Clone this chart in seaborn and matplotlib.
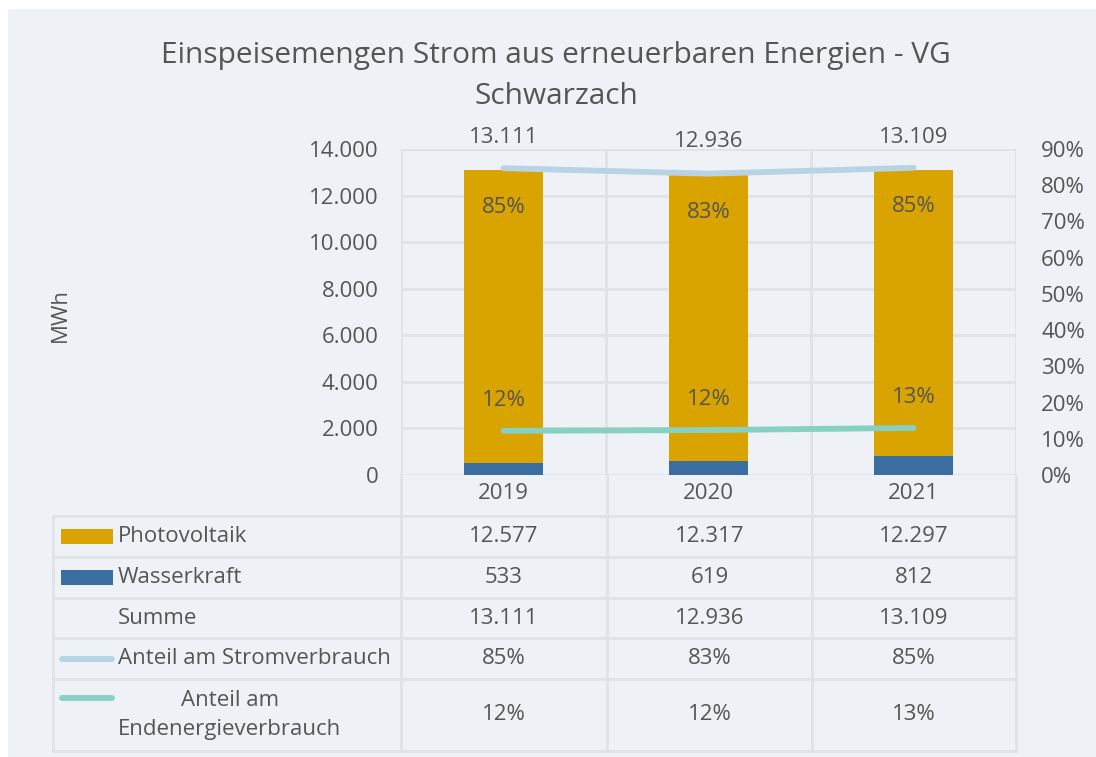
import numpy as np
import pandas as pd
import matplotlib
matplotlib.use("Agg")
import matplotlib.pyplot as plt
from matplotlib.patches import Rectangle
from matplotlib.lines import Line2D
import seaborn as sns

# ---------------- data ----------------
years = ["2019", "2020", "2021"]
photovoltaik = [12577, 12317, 12297]
wasserkraft = [533, 619, 812]
summe = [13111, 12936, 13109]
anteil_strom = [0.847, 0.832, 0.848]
anteil_end = [0.122, 0.124, 0.130]
left_ticks = [0, 2000, 4000, 6000, 8000, 10000, 12000, 14000]
right_ticks = [0.0, 0.1, 0.2, 0.3, 0.4, 0.5, 0.6, 0.7, 0.8, 0.9]

# ---------------- style ----------------
BG = "#EEF2F6"
GRID = "#DFE2E6"
TXT = "#555555"
C_PV = "#D9A300"
C_WK = "#3A6EA0"
C_STROM = "#B8D3E3"
C_END = "#86D0C4"
FS = 16

sns.set_theme(style="white")
plt.rcParams["font.family"] = ["Open Sans", "DejaVu Sans"]
plt.rcParams["text.color"] = TXT

W, H = 1096, 757
fig = plt.figure(figsize=(W / 100, H / 100), dpi=100, facecolor="white")

# overlay in pixel coordinates for background & table
ov = fig.add_axes([0, 0, 1, 1], zorder=-5)
ov.set_xlim(0, W)
ov.set_ylim(H, 0)
ov.axis("off")
ov.add_patch(Rectangle((8, 9), W - 8, H - 9, facecolor=BG, edgecolor="none"))


def de(n):
    return f"{n:,.0f}".replace(",", ".")


def pct(v):
    return f"{v * 100:.0f}%"


# ---------------- main axes ----------------
L, R, T, B = 401, 1016, 149, 475
ax = fig.add_axes([L / W, 1 - B / H, (R - L) / W, (B - T) / H])
ax.set_facecolor("none")

df = pd.DataFrame({"Jahr": years, "Summe": summe, "Wasserkraft": wasserkraft})
sns.barplot(data=df, x="Jahr", y="Summe", color=C_PV, width=0.39,
            saturation=1, ax=ax, zorder=2, linewidth=0)
sns.barplot(data=df, x="Jahr", y="Wasserkraft", color=C_WK, width=0.39,
            saturation=1, ax=ax, zorder=3, linewidth=0)

ax.set_xlim(-0.5, len(years) - 0.5)
ax.set_ylim(0, 14000)
ax.set_yticks(left_ticks)
ax.set_yticklabels([de(v) for v in left_ticks], fontsize=FS, color=TXT)
ax.set_xticks(range(len(years)))
ax.set_xticklabels(years, fontsize=FS, color=TXT)
ax.set_xticks(np.arange(-0.5, len(years), 1.0), minor=True)
ax.tick_params(axis="x", which="both", length=0, pad=6)
ax.tick_params(axis="y", length=0, pad=16)
ax.set_axisbelow(True)
ax.grid(axis="y", which="major", color=GRID, lw=2)
ax.grid(axis="x", which="minor", color=GRID, lw=2)
ax.grid(axis="x", which="major", visible=False)
for s in ax.spines.values():
    s.set_visible(False)
ax.set_xlabel("")
ax.set_ylabel("")

# sum labels above bars
for i, v in enumerate(summe):
    ax.annotate(de(v), (i, v), xytext=(0, 23), textcoords="offset points",
                ha="center", va="center", fontsize=FS, color=TXT)

# ---------------- secondary axes (lines) ----------------
ax2 = ax.twinx()
ax2.set_facecolor("none")
xpos = np.arange(len(years))
sns.lineplot(x=xpos, y=anteil_strom, ax=ax2, color=C_STROM, lw=4.2,
             solid_capstyle="round")
sns.lineplot(x=xpos, y=anteil_end, ax=ax2, color=C_END, lw=4.2,
             solid_capstyle="round")
ax2.set_ylim(0, 0.9)
ax2.set_yticks(right_ticks)
ax2.set_yticklabels([pct(v) for v in right_ticks], fontsize=FS, color=TXT)
ax2.tick_params(axis="y", length=0, pad=18)
ax2.grid(False)
for s in ax2.spines.values():
    s.set_visible(False)
ax2.set_xlim(-0.5, len(years) - 0.5)

for i, v in enumerate(anteil_strom):
    ax2.annotate(pct(v), (i, v), xytext=(0, -28), textcoords="offset points",
                 ha="center", va="center", fontsize=FS, color=TXT)
for i, v in enumerate(anteil_end):
    ax2.annotate(pct(v), (i, v), xytext=(0, 22), textcoords="offset points",
                 ha="center", va="center", fontsize=FS, color=TXT)

# ---------------- titles ----------------
fig.text(556 / W, 1 - 55 / H, "Einspeisemengen Strom aus erneuerbaren Energien - VG",
         ha="center", va="center", fontsize=21.5, color=TXT)
fig.text(556 / W, 1 - 97 / H, "Schwarzach", ha="center", va="center",
         fontsize=21.5, color=TXT)
fig.text(60 / W, 1 - 315 / H, "MWh", rotation=90, ha="center", va="center",
         fontsize=FS, color=TXT)

# ---------------- data table ----------------
rows_y = [516, 557, 598, 638, 679, 751]
cols_x = [L, 607, 812, R]
left_x = 53
for y in rows_y:
    ov.add_line(Line2D([left_x, R], [y, y], color=GRID, lw=2, zorder=1))
for x in cols_x:
    ov.add_line(Line2D([x, x], [B, rows_y[-1]], color=GRID, lw=2, zorder=1))
ov.add_line(Line2D([left_x, left_x], [rows_y[0], rows_y[-1]], color=GRID, lw=2, zorder=1))

centers = [(rows_y[k] + rows_y[k + 1]) / 2 for k in range(len(rows_y) - 1)]
col_c = [(cols_x[k] + cols_x[k + 1]) / 2 for k in range(len(cols_x) - 1)]
text_x = 118

series = [
    ("Photovoltaik", [de(v) for v in photovoltaik], "rect", C_PV),
    ("Wasserkraft", [de(v) for v in wasserkraft], "rect", C_WK),
    ("Summe", [de(v) for v in summe], None, None),
    ("Anteil am Stromverbrauch", [pct(v) for v in anteil_strom], "line", C_STROM),
    ("Anteil am\nEndenergieverbrauch", [pct(v) for v in anteil_end], "line", C_END),
]
for k, (name, vals, kind, col) in enumerate(series):
    yc = centers[k]
    if kind == "rect":
        ov.add_patch(Rectangle((61, yc - 7.5), 52, 15, facecolor=col, edgecolor="none"))
    elif kind == "line":
        ly = yc if "\n" not in name else yc - 17
        ov.add_line(Line2D([62, 112], [ly, ly], color=col, lw=4.2,
                           solid_capstyle="round"))
    ov.text(text_x, yc, name, ha="left", va="center", fontsize=FS, color=TXT,
            multialignment="center", linespacing=1.55)
    for j, s in enumerate(vals):
        ov.text(col_c[j], yc, s, ha="center", va="center", fontsize=FS, color=TXT)

fig.savefig("out.png", dpi=100, facecolor="white")
